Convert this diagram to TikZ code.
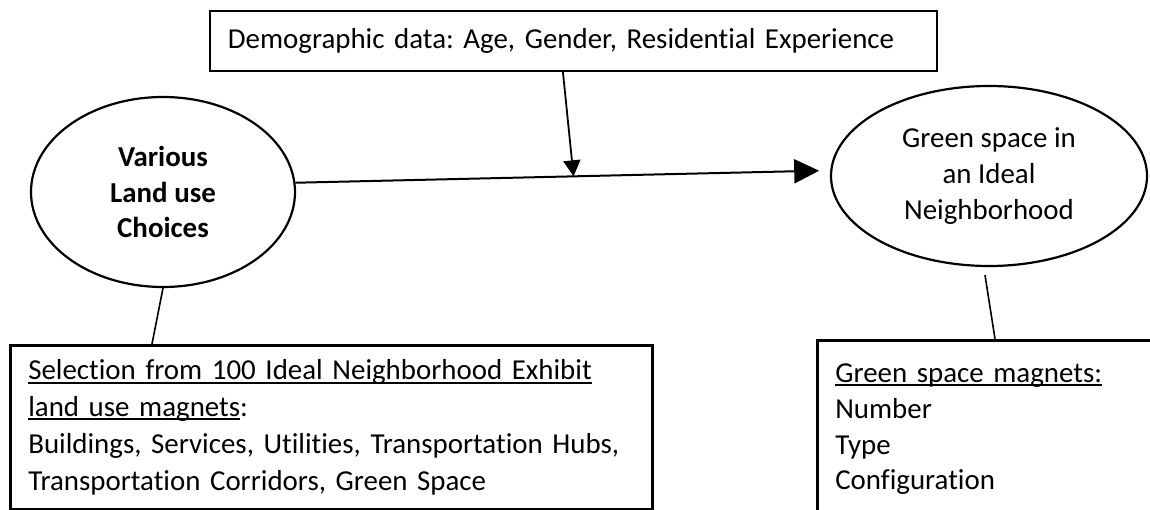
\documentclass[tikz,border=0pt]{standalone}
\usepackage{fontspec}
\setmainfont{Carlito}[Ligatures=NoCommon]
\usetikzlibrary{shapes.geometric,arrows.meta,calc}

% underline with a fixed offset below the baseline
\newsavebox\ulinebox
\newcommand\ulined[1]{\leavevmode\sbox\ulinebox{#1}\rlap{\rule[-3.6pt]{\wd\ulinebox}{1.8pt}}\usebox\ulinebox}
\newcommand\bodyfont{\fontsize{28.9pt}{35.7pt}\selectfont\frenchspacing}

\begin{document}
\begin{tikzpicture}[x=1pt,y=-1pt,
  every node/.style={font=\bodyfont},
  frame/.style={draw,rectangle,line width=2.6pt,anchor=north west,align=left,
    inner xsep=18pt,inner ysep=0pt},
  oval/.style={draw,ellipse,line width=2.2pt,inner sep=0pt,align=center},
  link/.style={line width=1.6pt},
  bigarrow/.style={line width=2pt,-{Triangle[length=25pt,width=24pt]}},
  smallarrow/.style={line width=1.8pt,-{Triangle[length=16pt,width=17pt]}}]

\useasboundingbox (0,0) rectangle (1150,510);
\clip (0,0) rectangle (1150,510);

% top box
\node[frame,line width=1.8pt,minimum width=727pt,minimum height=60pt,text width=691pt]
  (demo) at (209,10) {Demographic data: Age, Gender, Residential Experience};

% the two ellipses
\node[oval,font=\bodyfont\bfseries,minimum width=264pt,minimum height=190pt]
  (lu) at (163,192) {Various\\Land use\\Choices};
\node[oval,minimum width=316pt,minimum height=180pt]
  (gs) at (989,176) {Green space in\\an Ideal\\Neighborhood};

% bottom boxes
\node[frame,minimum width=642pt,minimum height=164pt,text width=606pt]
  (sel) at (9,344) {\ulined{Selection from 100 Ideal Neighborhood Exhibit}\\[1pt]
  \ulined{land use magnets}:\\[1pt]
  Buildings, Services, Utilities, Transportation Hubs,\\[1pt]
  Transportation Corridors, Green Space};
\node[frame,minimum width=420pt,minimum height=178pt,text width=384pt]
  (mag) at (816,339) {\ulined{Green space magnets:}\\Number\\Type\\Configuration};

% connectors
\draw[bigarrow,shorten >=11pt] (lu.4) -- coordinate[pos=0.52] (cross) (gs.178.5);
\draw[smallarrow] ($(demo.south)+(-10.5,0)$) -- (cross);
\draw[link] (lu.south) -- ($(sel.north west)+(143,0)$);
\draw[link] ($(gs.south)+(-4,8)$) -- ($(mag.north west)+(179,0)$);

\end{tikzpicture}
\end{document}
